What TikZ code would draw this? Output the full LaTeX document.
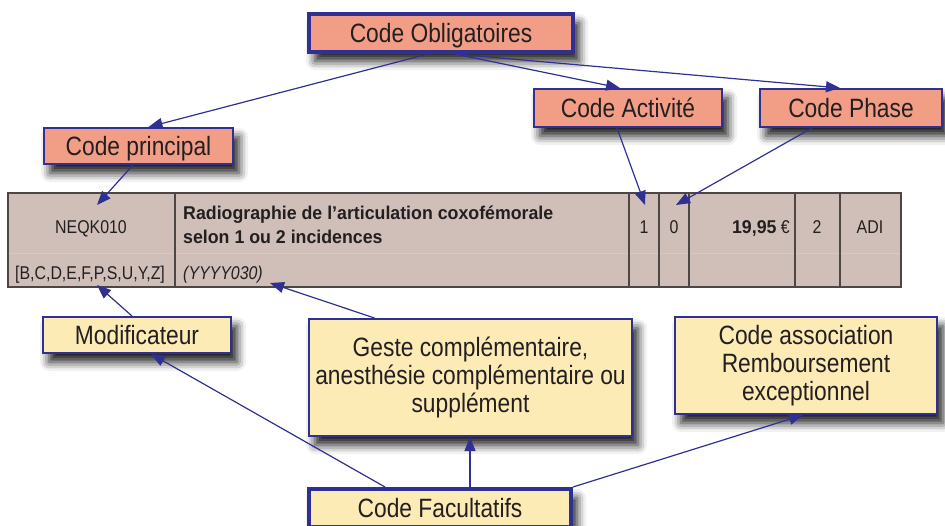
\documentclass[tikz,border=0pt]{standalone}
\usepackage{fontspec}
\setmainfont{Liberation Sans}[FakeStretch=0.86,BoldFeatures={FakeStretch=0.96}]
\usetikzlibrary{arrows.meta,shadows.blur}
\definecolor{navy}{RGB}{46,49,146}
\definecolor{salmon}{RGB}{242,158,135}
\definecolor{cream}{RGB}{253,235,182}
\definecolor{taupe}{RGB}{208,191,184}
\definecolor{cellline}{RGB}{78,70,68}
\definecolor{ink}{RGB}{35,31,32}
\begin{document}
\begin{tikzpicture}[x=1pt,y=-1pt,
  shad/.style={blur shadow={shadow xshift=6pt,shadow yshift=-9pt,shadow blur radius=9pt,shadow opacity=90}},
  lbl/.style={draw=navy,line width=2pt,inner sep=0pt,font=\fontsize{26.5}{28}\selectfont,text=ink,shad},
  redbox/.style={lbl,fill=salmon,text height=19pt,text depth=0pt},
  yelbox/.style={lbl,fill=cream,align=center},
  heavy/.style={line width=4pt},
  conn/.style={draw=navy,line width=1.2pt,-{Triangle[length=14pt,width=11pt]}},
  celltext/.style={font=\fontsize{18.5}{22}\selectfont,inner sep=0pt,anchor=base,text=ink},
  divider/.style={draw=cellline,line width=1.5pt},
]
\useasboundingbox (0,0) rectangle (945,525);

% table
\node[draw=cellline,line width=1.5pt,fill=taupe,minimum width=893pt,minimum height=94pt,inner sep=0pt] (table) at (454.5,240) {};
\draw[draw=taupe!85!white,line width=0.8pt] (9,253) -- (900,253);
\foreach \xx in {175,629,659,689,795,840}{
  \draw[divider] (\xx,193) -- (\xx,287);
}
\node[celltext] (neqk) at (91,233) {NEQK010};
\node[celltext] (mods) at (90,279) {[B,C,D,E,F,P,S,U,Y,Z]};
\node[celltext,anchor=base west,font=\fontsize{18.5}{22}\selectfont\bfseries] (lib1) at (183,219) {Radiographie de l’articulation coxofémorale};
\node[celltext,anchor=base west,font=\fontsize{18.5}{22}\selectfont\bfseries] (lib2) at (183,243) {selon 1 ou 2 incidences};
\node[celltext,anchor=base west,font=\fontsize{18.5}{22}\selectfont\itshape] (yyyy) at (183,279) {(YYYY030)};
\node[celltext] (act) at (644,233) {1};
\node[celltext] (pha) at (674,233) {0};
\node[celltext,anchor=base east] (prix) at (790,233) {\textbf{19,95} €};
\node[celltext] (deux) at (817,233) {2};
\node[celltext] (adi) at (870,233) {ADI};

% label boxes
\node[redbox,heavy,minimum width=264pt,minimum height=38pt] (oblig) at (441,33) {Code Obligatoires};
\node[redbox,minimum width=188pt,minimum height=38pt] (activ) at (628,108) {Code Activité};
\node[redbox,minimum width=182pt,minimum height=38pt] (phase) at (851,108) {Code Phase};
\node[redbox,minimum width=189pt,minimum height=36pt] (princ) at (138.5,146) {Code principal};
\node[yelbox,minimum width=188pt,minimum height=36pt,text height=19pt,text depth=0pt] (modif) at (137,335) {Modificateur};
\node[yelbox,minimum width=323pt,minimum height=117pt] (geste) at (470.5,377.5) {Geste complémentaire,\\anesthésie complémentaire ou\\supplément};
\node[yelbox,minimum width=262pt,minimum height=97pt] (assoc) at (806,365.5) {Code association\\Remboursement\\exceptionnel};
\node[yelbox,heavy,minimum width=262pt,minimum height=38pt,text height=19pt,text depth=0pt] (facult) at (440,508) {Code Facultatifs};

% arrow tips in the table
\coordinate (tneqk) at (97,205);
\coordinate (tact) at (645,205);
\coordinate (tpha) at (676,205);
\coordinate (tmods) at (97,285);
\coordinate (tyyyy) at (270,283);

% connectors
\draw[conn] ([xshift=121pt]oblig.south west) -- ([xshift=10pt]princ.north);
\draw[conn] ([xshift=148pt]oblig.south west) -- ([xshift=-8pt]activ.north);
\draw[conn] ([xshift=148pt]oblig.south west) -- ([xshift=-11pt]phase.north);
\draw[conn] ([xshift=-5.5pt]princ.south) -- (tneqk);
\draw[conn] ([xshift=-11pt]activ.south) -- (tact);
\draw[conn] ([xshift=-39pt]phase.south) -- (tpha);
\draw[conn] ([xshift=-5pt]modif.north) -- (tmods);
\draw[conn] ([xshift=-96pt]geste.north) -- (tyyyy);
\draw[conn] ([xshift=-55pt]facult.north) -- ([xshift=14pt]modif.south);
\draw[conn] ([xshift=30pt]facult.north) -- ([xshift=-0.5pt]geste.south);
\draw[conn] (facult.north east) -- ([xshift=-3pt]assoc.south);
\end{tikzpicture}
\end{document}
